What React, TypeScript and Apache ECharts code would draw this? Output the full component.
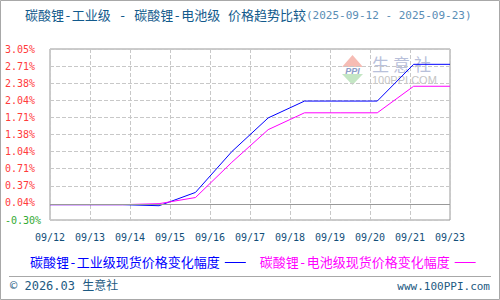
import React, { useEffect, useRef } from 'react';
import * as echarts from 'echarts';

const dates = ['09/12', '09/13', '09/14', '09/15', '09/16', '09/17', '09/18', '09/19', '09/20', '09/21', '09/22', '09/23'];
const xTickLabels = ['09/12', '09/13', '09/14', '09/15', '09/16', '09/17', '09/18', '09/19', '09/20', '09/21', '09/23'];
const industrialChange = [0, 0, 0, -0.02, 0.24, 1.04, 1.7, 2.03, 2.03, 2.03, 2.75, 2.75];
const batteryChange = [0, 0, 0, 0.02, 0.14, 0.83, 1.47, 1.8, 1.8, 1.8, 2.32, 2.32];
const yTickLabels = ['-0.30%', '0.04%', '0.37%', '0.71%', '1.04%', '1.38%', '1.71%', '2.04%', '2.38%', '2.71%', '3.05%'];
const yMin = -0.3;
const yMax = 3.05;
const seriesNames = ['碳酸锂-工业级现货价格变化幅度', '碳酸锂-电池级现货价格变化幅度'];
const seriesColors = ['#0000ff', '#ff00ff'];
const titleText = '碳酸锂-工业级 - 碳酸锂-电池级 价格趋势比较';
const dateRangeText = '(2025-09-12 - 2025-09-23)';
const footerLeft = '© 2026.03 生意社';
const footerRight = 'www.100PPI.com';

const MIX = '"DejaVu Sans Mono", "Noto Sans CJK SC", monospace';
const MONO = '"DejaVu Sans Mono", monospace';

export default function App() {
  const ref = useRef<HTMLDivElement>(null);
  useEffect(() => {
    document.body.style.margin = '0';
    const chart = echarts.init(ref.current!, null, { renderer: 'svg' });
    const option: any = {
      animation: false,
      backgroundColor: '#ffffff',
      grid: {
        left: 50,
        top: 49,
        width: 400,
        height: 171,
        show: true,
        borderColor: '#999999',
        borderWidth: 1,
        backgroundColor: 'transparent',
      },
      xAxis: [
        {
          type: 'category',
          data: dates,
          boundaryGap: false,
          show: false,
        },
        {
          type: 'category',
          data: xTickLabels,
          boundaryGap: false,
          position: 'bottom',
          axisLine: { show: false },
          axisTick: { show: false },
          axisLabel: {
            color: '#134f7a',
            fontFamily: MONO,
            fontSize: 10,
            margin: 12,
            interval: 0,
          },
          splitLine: {
            show: true,
            lineStyle: { color: '#c8c8c8', type: [4, 2], width: 1 },
          },
        },
      ],
      yAxis: [
        {
          type: 'value',
          min: 0,
          max: yTickLabels.length - 1,
          interval: 1,
          position: 'left',
          axisLine: { show: false },
          axisTick: { show: false },
          axisLabel: {
            align: 'left',
            margin: 45,
            fontFamily: MONO,
            fontSize: 10,
            formatter: (v: number) => yTickLabels[Math.round(v)],
            color: (v: any) => (String(yTickLabels[Math.round(Number(v))]).startsWith('-') ? '#33aa33' : '#ff3b3b'),
          },
          splitLine: {
            show: true,
            lineStyle: {
              color: yTickLabels.map((_, i) => (i === 1 ? 'rgba(0,0,0,0)' : '#c8c8c8')),
              type: [4, 2],
              width: 1,
            },
          },
        },
        {
          type: 'value',
          min: yMin,
          max: yMax,
          show: false,
        },
      ],
      legend: {
        left: 25,
        top: 251,
        align: 'right',
        icon: 'rect',
        itemWidth: 21,
        itemHeight: 1,
        itemGap: 14,
        textStyle: { fontFamily: MIX, fontSize: 13 },
        data: seriesNames.map((n, i) => ({ name: n, textStyle: { color: seriesColors[i] } })),
      },
      series: [
        {
          name: 'zero',
          type: 'line',
          xAxisIndex: 0,
          yAxisIndex: 1,
          data: [],
          z: 1,
          silent: true,
          markLine: {
            silent: true,
            symbol: 'none',
            label: { show: false },
            lineStyle: { color: '#999999', type: 'solid', width: 1 },
            data: [{ yAxis: 0 }],
          },
        },
        {
          name: seriesNames[0],
          type: 'line',
          xAxisIndex: 0,
          yAxisIndex: 1,
          data: industrialChange,
          symbol: 'none',
          color: seriesColors[0],
          lineStyle: { color: seriesColors[0], width: 1 },
          z: 3,
        },
        {
          name: seriesNames[1],
          type: 'line',
          xAxisIndex: 0,
          yAxisIndex: 1,
          data: batteryChange,
          symbol: 'none',
          color: seriesColors[1],
          lineStyle: { color: seriesColors[1], width: 1 },
          z: 4,
        },
      ],
      graphic: [
        {
          type: 'rect',
          shape: { x: 0.5, y: 0.5, width: 499, height: 299 },
          style: { fill: 'none', stroke: '#a8a8a8', lineWidth: 1 },
          silent: true,
        },
        {
          type: 'text',
          x: 25,
          y: 15,
          style: {
            text: titleText,
            fill: '#125a8c',
            font: `13px ${MIX}`,
            verticalAlign: 'middle',
          },
        },
        {
          type: 'text',
          x: 306,
          y: 15,
          style: {
            text: dateRangeText,
            fill: '#5a8db5',
            font: `11px ${MONO}`,
            verticalAlign: 'middle',
          },
        },
        {
          type: 'line',
          shape: { x1: 9, y1: 276.5, x2: 491, y2: 276.5 },
          style: { stroke: '#a8a8a8', lineWidth: 1 },
        },
        {
          type: 'text',
          x: 10,
          y: 286,
          style: {
            text: footerLeft,
            fill: '#1d5a82',
            font: `12px ${MIX}`,
            verticalAlign: 'middle',
          },
        },
        {
          type: 'text',
          x: 490,
          y: 286,
          style: {
            text: footerRight,
            fill: '#1d5a82',
            font: `11px ${MONO}`,
            align: 'right',
            verticalAlign: 'middle',
          },
        },
        {
          type: 'group',
          z: 0,
          silent: true,
          children: [
            {
              type: 'polygon',
              shape: { points: [[352.5, 55], [342, 67], [363, 67]] },
              style: { fill: '#f6bcb4' },
            },
            {
              type: 'polygon',
              shape: { points: [[342, 74], [363, 74], [352.5, 85]] },
              style: { fill: '#c4e6c4' },
            },
            {
              type: 'text',
              x: 352.5,
              y: 70.5,
              style: {
                text: 'PPI',
                fill: '#8c9cc8',
                font: 'italic bold 9px "Liberation Sans", sans-serif',
                align: 'center',
                verticalAlign: 'middle',
              },
            },
            {
              type: 'text',
              x: 372,
              y: 63,
              style: { text: '生', fill: '#b8c0da', font: '17px "Noto Sans CJK SC"', verticalAlign: 'middle' },
            },
            {
              type: 'text',
              x: 393,
              y: 63,
              style: { text: '意', fill: '#b8c0da', font: '17px "Noto Sans CJK SC"', verticalAlign: 'middle' },
            },
            {
              type: 'text',
              x: 414,
              y: 63,
              style: { text: '社', fill: '#b8c0da', font: '17px "Noto Sans CJK SC"', verticalAlign: 'middle' },
            },
            {
              type: 'text',
              x: 372,
              y: 80,
              style: { text: '100PPI.COM', fill: '#c4c4c4', font: '11px "Liberation Sans", sans-serif', verticalAlign: 'middle' },
            },
          ],
        },
      ],
    };
    chart.setOption(option);
    return () => chart.dispose();
  }, []);
  return <div ref={ref} style={{ width: 500, height: 300 }} />;
}
